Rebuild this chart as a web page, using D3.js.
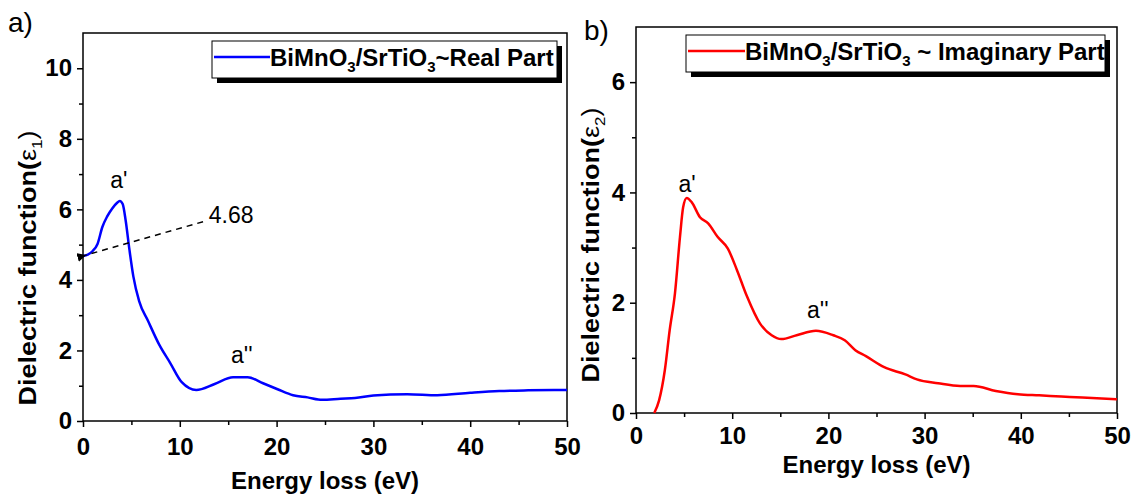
<!DOCTYPE html>
<html>
<head>
<meta charset="utf-8">
<script src="https://cdn.jsdelivr.net/npm/d3@7"></script>
<style>
  body { margin: 0; background: #fff; }
  svg text { font-family: "Liberation Sans", Arial, sans-serif; }
</style>
</head>
<body>
<svg id="chart" width="1137" height="497"></svg>
<script>
// energy loss (eV) vs dielectric function
var realEnergy = [0, 0.5, 1, 1.5, 2, 2.5, 3, 3.5, 3.8, 4.1, 4.4, 4.8, 5.2, 5.8, 6.7, 7.9, 9, 10.2, 11.7, 13.6, 15.5, 17, 18.6, 20.1, 21.7, 23.2, 24.7, 26.6, 28.1, 30, 33.5, 36.6, 40, 43, 46, 50];
var realValues = [4.68, 4.72, 4.82, 5.02, 5.5, 5.8, 6.02, 6.18, 6.24, 6.15, 5.7, 4.85, 4.1, 3.4, 2.85, 2.15, 1.65, 1.1, 0.88, 1.05, 1.24, 1.24, 1.07, 0.9, 0.73, 0.67, 0.6, 0.63, 0.65, 0.72, 0.76, 0.73, 0.8, 0.85, 0.87, 0.88];

var imagEnergy = [1.9, 2.4, 3.0, 3.5, 4.05, 4.57, 4.9, 5.27, 5.8, 6.65, 7.5, 8.5, 9.55, 10.5, 11.5, 12.9, 14.1, 15.1, 16.7, 18.7, 20.5, 21.7, 22.8, 23.9, 25.8, 28, 29.2, 31.4, 33.7, 35.1, 37.4, 39.7, 41.9, 44.2, 46.4, 50];
var imagValues = [0, 0.23, 0.78, 1.5, 2.17, 3.19, 3.73, 3.9, 3.82, 3.55, 3.44, 3.19, 2.98, 2.59, 2.13, 1.62, 1.41, 1.34, 1.41, 1.49, 1.41, 1.32, 1.14, 1.03, 0.83, 0.7, 0.61, 0.54, 0.49, 0.49, 0.4, 0.34, 0.32, 0.3, 0.28, 0.25];

var xMajor = [0, 10, 20, 30, 40, 50];
var xMinor = [5, 15, 25, 35, 45];
var realMajor = [0, 2, 4, 6, 8, 10];
var realMinor = [1, 3, 5, 7, 9];
var imagMajor = [0, 2, 4, 6];
var imagMinor = [1, 3, 5];

var svg = d3.select("svg#chart");
svg.append("rect").attr("width", 1137).attr("height", 497).attr("fill", "#fff");

function drawPanel(p) {
    var width = p.right - p.left,
        height = p.bottom - p.top;

    var g = svg.append("g")
        .attr("transform", "translate(" + p.left + "," + p.top + ")");

    var x = d3.scaleLinear().domain([0, 50]).range([0, width]);
    var y = d3.scaleLinear().domain([0, p.yMax]).range([height, 0]);

    // frame
    g.append("rect")
        .attr("width", width)
        .attr("height", height)
        .attr("fill", "none")
        .attr("stroke", "#000")
        .attr("stroke-width", 1.5);

    // minor ticks first, then major ones with labels
    g.append("g")
        .attr("transform", "translate(0," + height + ")")
        .call(d3.axisBottom(x).tickValues(xMinor).tickSize(4).tickFormat(""))
        .call(function (a) { a.select(".domain").remove(); })
        .selectAll("line").attr("stroke-width", 1.5);

    g.append("g")
        .attr("transform", "translate(0," + height + ")")
        .call(d3.axisBottom(x).tickValues(xMajor).tickSize(6).tickPadding(p.xPad).tickFormat(d3.format("d")))
        .call(function (a) { a.select(".domain").remove(); })
        .call(function (a) { a.selectAll("line").attr("stroke-width", 1.5); })
        .selectAll("text")
            .attr("font-size", "24px")
            .attr("font-weight", "bold")
            .attr("fill", "#000");

    g.append("g")
        .call(d3.axisLeft(y).tickValues(p.yMinor).tickSize(4).tickFormat(""))
        .call(function (a) { a.select(".domain").remove(); })
        .selectAll("line").attr("stroke-width", 1.5);

    g.append("g")
        .call(d3.axisLeft(y).tickValues(p.yMajor).tickSize(6).tickPadding(5).tickFormat(d3.format("d")))
        .call(function (a) { a.select(".domain").remove(); })
        .call(function (a) { a.selectAll("line").attr("stroke-width", 1.5); })
        .selectAll("text")
            .attr("font-size", "24px")
            .attr("font-weight", "bold")
            .attr("fill", "#000");

    // axis titles
    g.append("text")
        .attr("x", width / 2)
        .attr("y", height + p.xTitleOff)
        .attr("text-anchor", "middle")
        .attr("font-size", "24px")
        .attr("font-weight", "bold")
        .text("Energy loss (eV)");

    var yt = svg.append("text")
        .attr("transform", "translate(" + p.yTitleX + "," + p.yTitleY + ")scale(0.88,1)rotate(-90)")
        .attr("text-anchor", "middle")
        .attr("font-size", "27px")
        .attr("font-weight", "bold");
    yt.append("tspan").text("Dielectric function(");
    yt.append("tspan").attr("font-weight", "normal").text("\u03b5");
    yt.append("tspan").attr("font-size", "17px").attr("font-weight", "normal").attr("dy", 7).text(p.sub);
    yt.append("tspan").attr("font-weight", "normal").attr("dy", -7).text(")");

    // curve
    var line = d3.line()
        .x(function (d) { return x(d[0]); })
        .y(function (d) { return y(d[1]); })
        .curve(d3.curveMonotoneX);

    g.append("path")
        .datum(d3.zip(p.xs, p.ys))
        .attr("fill", "none")
        .attr("stroke", p.color)
        .attr("stroke-width", 2.5)
        .attr("d", line);

    // peak labels
    p.peaks.forEach(function (pk) {
        g.append("text")
            .attr("x", x(pk.x))
            .attr("y", y(pk.y))
            .attr("text-anchor", "middle")
            .attr("font-size", "23px")
            .text(pk.label);
    });

    // legend with drop shadow
    var lg = svg.append("g").attr("transform", "translate(" + p.legX + "," + p.legY + ")");
    lg.append("rect")
        .attr("x", 5).attr("y", 5)
        .attr("width", p.legW).attr("height", 37)
        .attr("fill", "#000");
    lg.append("rect")
        .attr("width", p.legW).attr("height", 37)
        .attr("fill", "#fff")
        .attr("stroke", "#000")
        .attr("stroke-width", 1);
    lg.append("line")
        .attr("x1", 2).attr("x2", p.legLine)
        .attr("y1", 16).attr("y2", 16)
        .attr("stroke", p.color)
        .attr("stroke-width", 2.5);
    var lt = lg.append("text")
        .attr("x", p.legLine)
        .attr("y", 25)
        .attr("font-size", "24px")
        .attr("font-weight", "bold");
    lt.append("tspan").text("BiMnO");
    lt.append("tspan").attr("font-size", "15px").attr("dy", 6).text("3");
    lt.append("tspan").attr("dy", -6).text("/SrTiO");
    lt.append("tspan").attr("font-size", "15px").attr("dy", 6).text("3");
    lt.append("tspan").attr("dy", -6).text(p.legRest);

    // panel letter
    svg.append("text")
        .attr("x", p.letterX)
        .attr("y", p.letterY)
        .attr("font-size", "28px")
        .text(p.letter);

    return { g: g, x: x, y: y };
}

var a = drawPanel({
    left: 83, right: 567, top: 33, bottom: 421,
    yMax: 11, yMajor: realMajor, yMinor: realMinor,
    xs: realEnergy, ys: realValues, color: "#0000ff",
    xPad: 11, xTitleOff: 68,
    yTitleX: 36, yTitleY: 268, sub: "1",
    peaks: [{x: 3.7, y: 6.6, label: "a'"}, {x: 16.4, y: 1.65, label: "a''"}],
    legX: 212, legY: 41, legW: 345, legLine: 58,
    legRest: "~Real Part",
    letter: "a)", letterX: 8, letterY: 32
});

var b = drawPanel({
    left: 636, right: 1117, top: 27, bottom: 413,
    yMax: 7, yMajor: imagMajor, yMinor: imagMinor,
    xs: imagEnergy, ys: imagValues, color: "#ff0000",
    xPad: 8, xTitleOff: 60,
    yTitleX: 599, yTitleY: 245, sub: "2",
    peaks: [{x: 5.3, y: 4.0, label: "a'"}, {x: 18.9, y: 1.72, label: "a''"}],
    legX: 686, legY: 35, legW: 419, legLine: 59,
    legRest: " ~ Imaginary Part",
    letter: "b)", letterX: 584, letterY: 40
});

// dashed pointer to the eps1(0) value in panel a
a.g.append("defs").append("marker")
    .attr("id", "arrow")
    .attr("viewBox", "0 0 10 10")
    .attr("refX", 1).attr("refY", 5)
    .attr("markerWidth", 6).attr("markerHeight", 6)
    .attr("orient", "auto")
    .append("path")
    .attr("d", "M10,0 L0,5 L10,10 z")
    .attr("fill", "#000");

a.g.append("line")
    .attr("x1", a.x(12.4)).attr("y1", a.y(5.65))
    .attr("x2", a.x(0.25)).attr("y2", a.y(4.7))
    .attr("stroke", "#000")
    .attr("stroke-width", 1.5)
    .attr("stroke-dasharray", "6,5")
    .attr("marker-end", "url(#arrow)");

a.g.append("text")
    .attr("x", a.x(13))
    .attr("y", a.y(5.65) + 1)
    .attr("font-size", "23px")
    .text("4.68");
</script>
</body>
</html>
